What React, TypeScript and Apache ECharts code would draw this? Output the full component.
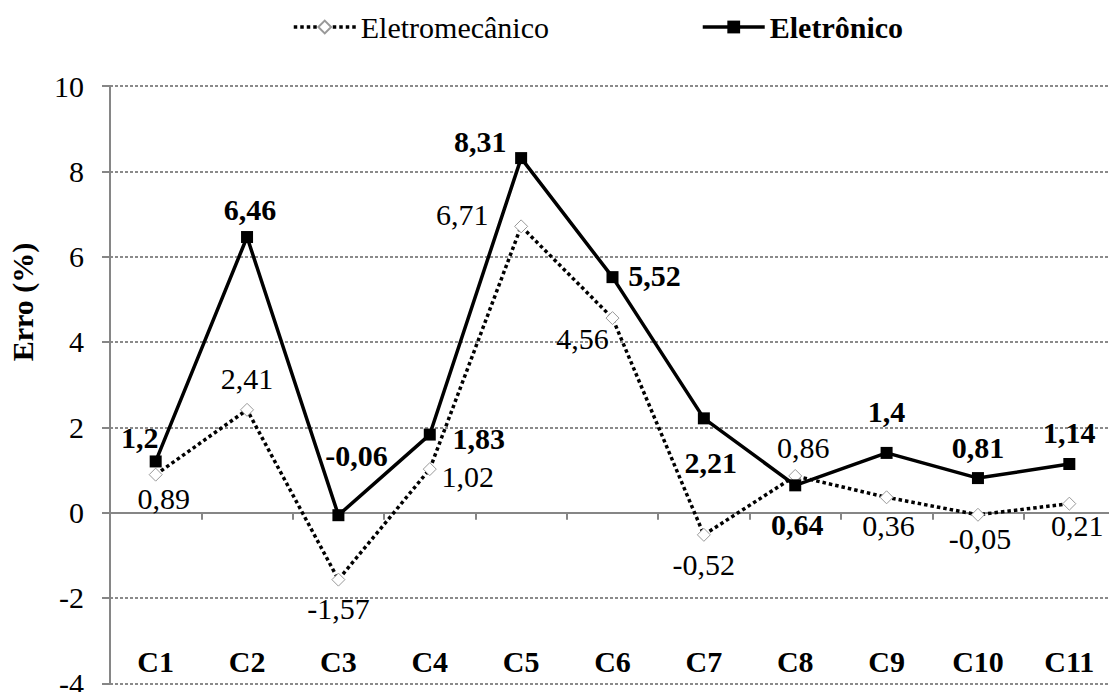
import React, { useEffect, useRef } from "react";
import * as echarts from "echarts";

const categories = ["C1", "C2", "C3", "C4", "C5", "C6", "C7", "C8", "C9", "C10", "C11"];
const eletromecanico = [0.89, 2.41, -1.57, 1.02, 6.71, 4.56, -0.52, 0.86, 0.36, -0.05, 0.21];
const eletronico = [1.2, 6.46, -0.06, 1.83, 8.31, 5.52, 2.21, 0.64, 1.4, 0.81, 1.14];
const yMin = -4;
const yMax = 10;
const yStep = 2;

// label placement offsets (pixels, relative to each point)
const offsetsMec: [number, number][] = [
  [8, 24], [0, -31], [0, 29], [38, 7], [-59, -12], [-30, 20], [0, 30], [8, -28], [2, 28], [2, 24], [8, 22],
];
const offsetsEle: [number, number][] = [
  [-16, -24], [3, -28], [18, -60], [49, 4], [-41, -17], [42, -2], [7, 44], [2, 39], [0, -41], [0, -31], [0, -32],
];

const FONT = "Liberation Serif";
const FS = 30;
const fmt = (v: number) => String(v).replace(".", ",");

export default function App() {
  const ref = useRef<HTMLDivElement>(null);
  useEffect(() => {
    if (!ref.current) return;
    const chart = echarts.init(ref.current, undefined, { renderer: "svg" });
    const grey = "#868686";
    chart.setOption({
      animation: false,
      backgroundColor: "#ffffff",
      textStyle: { fontFamily: FONT },
      grid: {
        left: 110,
        top: 86,
        width: 1005,
        height: 597.3,
        containLabel: false,
        outerBoundsMode: "none",
      },
      legend: {
        left: 292,
        top: 12,
        padding: 0,
        itemWidth: 62,
        itemHeight: 16,
        itemGap: 152,
        lineStyle: { width: 3.5 },
        textStyle: { fontFamily: FONT, fontSize: FS, color: "#000" },
        data: [
          { name: "Eletromecânico", textStyle: { fontWeight: "normal" } },
          { name: "Eletrônico", textStyle: { fontWeight: "bold" } },
        ],
      },
      graphic: [
        {
          type: "text",
          x: 22.5,
          y: 302,
          rotation: Math.PI / 2,
          style: {
            text: "Erro (%)",
            fontFamily: FONT,
            fontSize: FS,
            fontWeight: "bold",
            fill: "#000",
            align: "center",
            verticalAlign: "middle",
          },
        },
      ],
      xAxis: {
        type: "category",
        data: categories,
        boundaryGap: true,
        axisLine: { onZero: true, lineStyle: { color: grey, width: 2 } },
        axisTick: { show: true, length: 7, lineStyle: { color: grey, width: 2 } },
        axisLabel: {
          margin: -22,
          verticalAlign: "middle",
          fontFamily: FONT,
          fontSize: FS,
          fontWeight: "bold",
          color: "#000",
        },
        splitLine: { show: false },
      },
      yAxis: {
        type: "value",
        min: yMin,
        max: yMax,
        interval: yStep,
        axisLine: { show: true, lineStyle: { color: grey, width: 2 } },
        axisTick: { show: true, length: 8, lineStyle: { color: grey, width: 2 } },
        axisLabel: { margin: 26, fontFamily: FONT, fontSize: FS, color: "#000" },
        splitLine: { show: true, lineStyle: { color: "#8a8a8a", width: 2, type: [3, 2] } },
      },
      series: [
        {
          name: "Eletromecânico",
          type: "line",
          data: eletromecanico.map((v, i) => ({
            value: v,
            label: { offset: offsetsMec[i] },
          })),
          symbol: "diamond",
          symbolSize: 13,
          itemStyle: { color: "#ffffff", borderColor: "#999999", borderWidth: 1 },
          lineStyle: { color: "#000", width: 3.5, type: [3.5, 3] },
          label: {
            show: true,
            position: "inside",
            formatter: (p: any) => fmt(p.value),
            fontFamily: FONT,
            fontSize: FS,
            color: "#000",
          },
          z: 2,
        },
        {
          name: "Eletrônico",
          type: "line",
          data: eletronico.map((v, i) => ({
            value: v,
            label: { offset: offsetsEle[i] },
          })),
          symbol: "rect",
          symbolSize: 12,
          itemStyle: { color: "#000" },
          lineStyle: { color: "#000", width: 3.5 },
          label: {
            show: true,
            position: "inside",
            formatter: (p: any) => fmt(p.value),
            fontFamily: FONT,
            fontSize: FS,
            fontWeight: "bold",
            color: "#000",
          },
          z: 3,
        },
      ],
    });
    return () => chart.dispose();
  }, []);
  return (
    <div
      ref={ref}
      style={{ position: "absolute", left: 0, top: 0, width: 1109, height: 692 }}
    />
  );
}
